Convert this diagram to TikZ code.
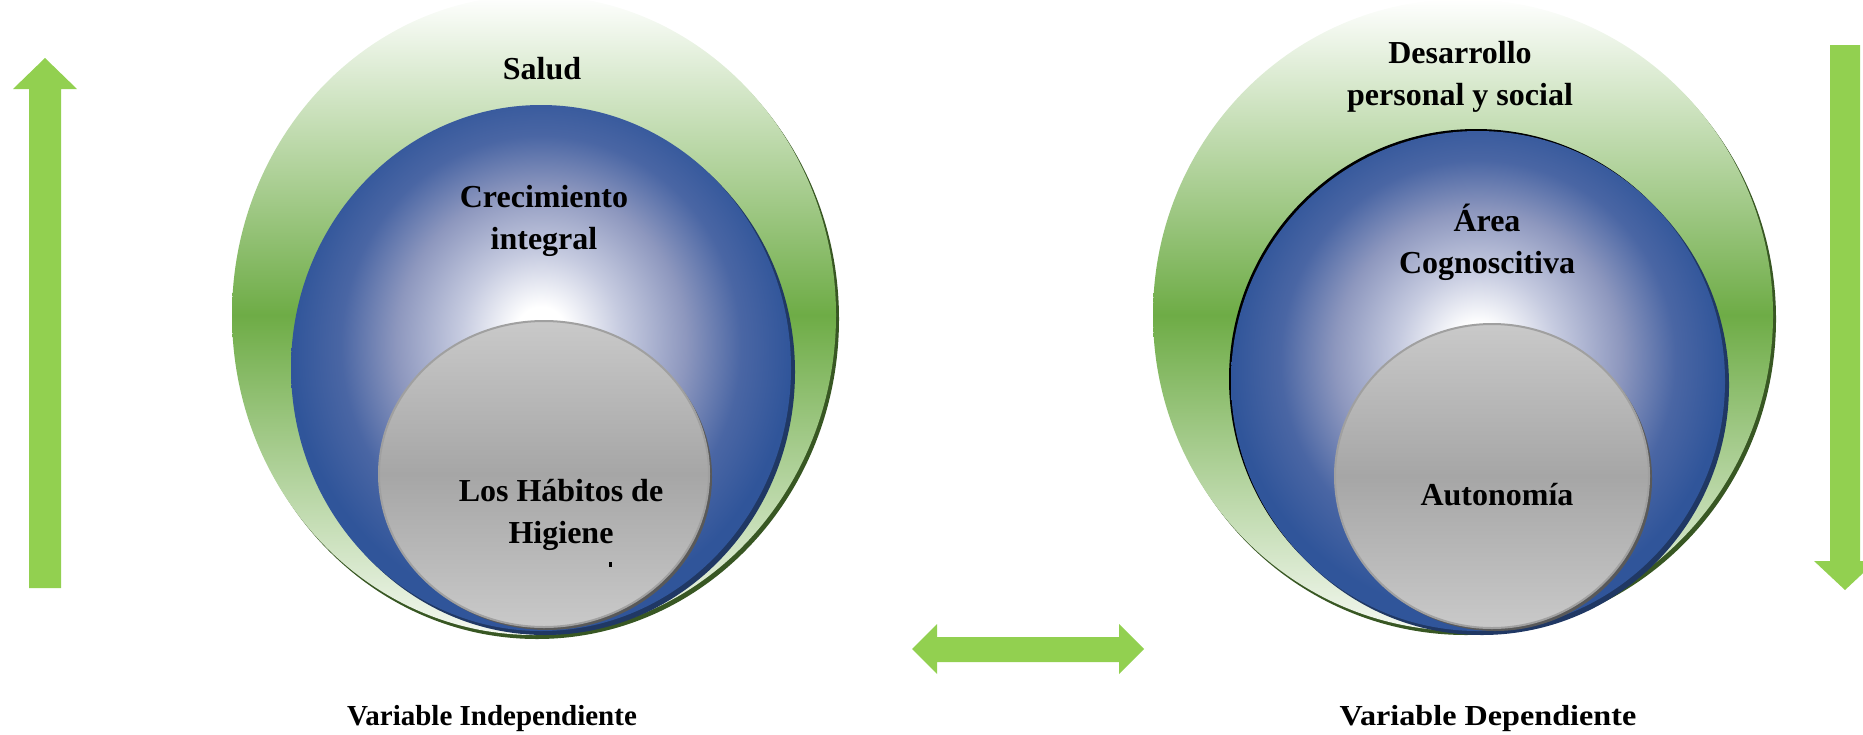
\documentclass[tikz,border=0pt]{standalone}
\usepackage{fontspec}
\setmainfont{Liberation Serif}
\usetikzlibrary{shapes.geometric,shadows}
\definecolor{arrowgreen}{HTML}{92D050}
\definecolor{gmid}{HTML}{6EAC46}
\definecolor{gpale}{HTML}{F4F8F1}
\definecolor{gdark}{HTML}{385723}
\definecolor{bblue}{HTML}{30559A}
\definecolor{bmid}{HTML}{8D97BE}
\definecolor{blight}{HTML}{C6CBE0}
\definecolor{bedge}{HTML}{4A66A4}
\definecolor{bdark}{HTML}{203864}
\definecolor{glight}{HTML}{C9C9C9}
\definecolor{gmidgray}{HTML}{A6A6A6}
\definecolor{gborder}{HTML}{A0A0A0}
\definecolor{gshadow}{HTML}{595959}
\pgfdeclareverticalshading{greensh}{100bp}{color(0bp)=(gpale); color(25bp)=(gpale); color(50bp)=(gmid); color(75bp)=(white); color(100bp)=(white)}
\pgfdeclareverticalshading{graysh}{100bp}{color(0bp)=(glight); color(25bp)=(glight); color(50bp)=(gmidgray); color(75bp)=(glight); color(100bp)=(glight)}
\pgfdeclareradialshading{bluesh}{\pgfpoint{0bp}{3.5bp}}{color(0bp)=(white); color(2.5bp)=(white); color(8bp)=(blight); color(14.5bp)=(bmid); color(20bp)=(bedge); color(25bp)=(bblue); color(50bp)=(bblue)}
\begin{document}
\begin{tikzpicture}[x=0.5pt,y=-0.5pt,
  disc/.style={ellipse, inner sep=0pt, outer sep=0pt},
  greendisc/.style={disc, shading=greensh, general shadow={fill=gdark, shadow xshift=1.5pt, shadow yshift=-2pt}},
  bluedisc/.style={disc, shading=bluesh, general shadow={fill=bdark, shadow xshift=2pt, shadow yshift=-2pt}},
  graydisc/.style={disc, shading=graysh, draw=gborder, line width=1pt, general shadow={fill=gshadow, shadow xshift=1.5pt, shadow yshift=-1.5pt}},
  lbl/.style={font=\bfseries\fontsize{16pt}{21pt}\selectfont, align=center, inner sep=0pt, anchor=base},
  varlbl/.style={font=\bfseries\fontsize{14.5pt}{17pt}\selectfont, inner sep=0pt, anchor=base},
  bigarrow/.style={fill=arrowgreen, draw=none}]
\useasboundingbox (0,0) rectangle (1863,734);
% left group
\node[greendisc, minimum width=302pt, minimum height=320pt] (gL) at (534,315) {};
\node[bluedisc, minimum width=250pt, minimum height=263pt] (bL) at (541,368) {};
\node[graydisc, minimum width=165pt, minimum height=153pt] (grL) at (544,474) {};
\node[lbl] (salud) at (542,79) {Salud};
\node[lbl] (crec) at (544,249) {Crecimiento\\integral};
\node[lbl] (habitos) at (561,543) {Los Hábitos de\\Higiene};
\fill (609,562) rectangle (612,567);
% right group
\node[greendisc, minimum width=310pt, minimum height=316pt] (gR) at (1463,315) {};
\node[bluedisc, general shadow={fill=black, shadow xshift=-1pt, shadow yshift=1pt}, minimum width=247pt, minimum height=250pt] (bR) at (1478,381) {};
\node[graydisc, minimum width=157pt, minimum height=152pt] (grR) at (1492,476) {};
\node[lbl] (desa) at (1460,105) {Desarrollo\\personal y social};
\node[lbl] (area) at (1487,273) {Área\\Cognoscitiva};
\node[lbl] (auto) at (1497,505) {Autonomía};
% arrows
\fill[bigarrow] (29,588) -- (29,89) -- (13,89) -- (45,58) -- (77,89) -- (61,89) -- (61,588) -- cycle;
\fill[bigarrow] (1830,45) -- (1860,45) -- (1860,561) -- (1876,561) -- (1845,590) -- (1814,561) -- (1830,561) -- cycle;
\fill[bigarrow] (912,649) -- (937,624) -- (937,637) -- (1119,637) -- (1119,624) -- (1144,649) -- (1119,674) -- (1119,662) -- (937,662) -- (937,674) -- cycle;
% variable labels
\node[varlbl] (vi) at (492,725) {Variable Independiente};
\node[varlbl] (vd) at (1488,725) {\scalebox{1.11}[1]{Variable Dependiente}};
\end{tikzpicture}
\end{document}
